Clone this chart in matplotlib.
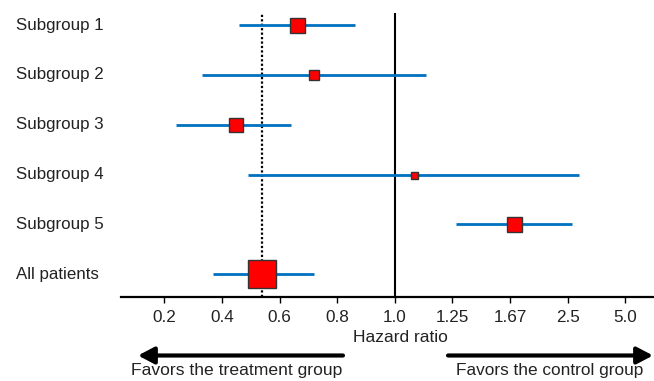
import numpy as np
import matplotlib.pyplot as plt
import matplotlib.transforms as mtransforms

plt.rcParams['font.family'] = ['Liberation Sans', 'DejaVu Sans']

# ---------------------------------------------------
# Data
# ---------------------------------------------------
groups = ["Subgroup 1", "Subgroup 2", "Subgroup 3", "Subgroup 4", "Subgroup 5", "All patients"]
hr = [0.66, 0.72, 0.45, 1.07, 1.71, 0.54]
ci_lo = [0.46, 0.33, 0.24, 0.49, 1.27, 0.37]
ci_hi = [0.86, 1.12, 0.64, 2.77, 2.60, 0.72]
weight = [15, 10, 14, 7, 15, 28]          # relative weight -> box size

tick_vals = [0.2, 0.4, 0.6, 0.8, 1.0, 1.25, 1.67, 2.5, 5.0]
tick_labels = ["0.2", "0.4", "0.6", "0.8", "1.0", "1.25", "1.67", "2.5", "5.0"]


def pos(v):
    # symmetric axis: linear in HR below 1, linear in 1/HR above 1
    v = np.asarray(v, dtype=float)
    return np.where(v <= 1, v, 2 - 1 / v)


# ---------------------------------------------------
# Figure
# ---------------------------------------------------
W, H = 654, 381
fig = plt.figure(figsize=(W / 100, H / 100), dpi=100)
ax = fig.add_axes([121 / W, 1 - 297 / H, 1 - 121 / W, (297 - 12.7) / H])

rows = np.arange(len(groups))
blue = '#0070C0'
txt = '#222222'

ax.hlines(rows, pos(ci_lo), pos(ci_hi), color=blue, lw=2.0, zorder=2)
for r, h, w in zip(rows, hr, weight):
    ax.plot(pos(h), r, marker='s', ms=w * 0.72, mfc='#FF0000', mec='#333333',
            mew=1.0, ls='none', zorder=3)

ax.axvline(pos(1.0), color='black', lw=1.5, zorder=1)
ax.axvline(pos(hr[-1]), color='black', lw=1.6, ls=(0, (1, 1)), zorder=1)

ax.set_xlim(0.049, 1.90)
ax.set_ylim(5.46, -0.25)
ax.set_xticks(pos(tick_vals))
ax.set_xticklabels(tick_labels)
ax.tick_params(axis='x', direction='out', length=4, width=1, pad=5.5,
               labelsize=12.3, labelcolor=txt)
ax.set_yticks([])
for s in ['top', 'right', 'left']:
    ax.spines[s].set_visible(False)
ax.spines['bottom'].set_linewidth(1.6)

ax.set_xlabel("Hazard ratio", fontsize=12.5, color=txt)
ax.xaxis.set_label_coords((400 - 121) / (W - 121), -0.115)

# group labels on the left
trans = mtransforms.blended_transform_factory(fig.transFigure, ax.transData)
for r, g in zip(rows, groups):
    ax.text(16 / W, r, g, transform=trans, ha='left', va='center',
            fontsize=12.2, color=txt, clip_on=False)

# ---------------------------------------------------
# Direction arrows
# ---------------------------------------------------
arrow = dict(arrowstyle='-|>,head_length=0.8,head_width=0.42', lw=3,
             color='black', shrinkA=0, shrinkB=0, mutation_scale=12)
y_arr = 1 - 355.5 / H
fig.add_artist(plt.Annotation("", xy=(138 / W, y_arr), xytext=(343 / W, y_arr),
                              xycoords='figure fraction', arrowprops=arrow))
fig.add_artist(plt.Annotation("", xy=(653 / W, y_arr), xytext=(448 / W, y_arr),
                              xycoords='figure fraction', arrowprops=arrow))

fig.text(237 / W, 1 - 371 / H, "Favors the treatment group", ha='center',
         va='center', fontsize=12.6, color=txt)
fig.text(550 / W, 1 - 371 / H, "Favors the control group", ha='center',
         va='center', fontsize=12.4, color=txt)

fig.savefig("out.png", dpi=100)
